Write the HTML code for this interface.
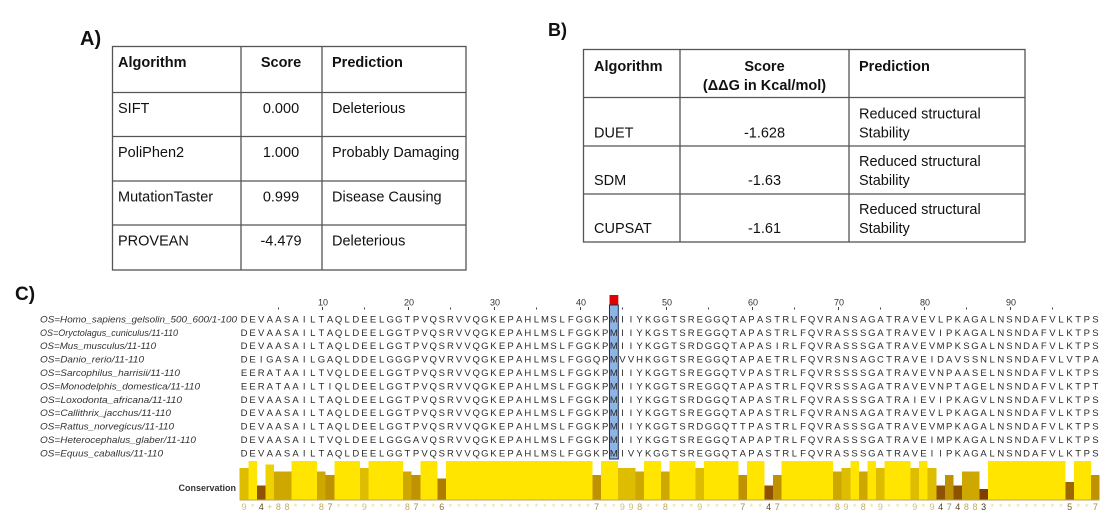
<!DOCTYPE html>
<html><head><meta charset="utf-8"><style>
body{margin:0;background:#fff}
svg{display:block}
.c9{fill:#D2BE6E}.c8{fill:#C4AA55}.c7{fill:#A08A50}.c6{fill:#8C7040}.c5{fill:#7C6038}.c4{fill:#5E4220}.c3{fill:#4A2E14}.cp{fill:#D8C878}
</style></head><body>
<svg width="1118" height="531" viewBox="0 0 1118 531" xmlns="http://www.w3.org/2000/svg" font-family="'Liberation Sans', Arial, sans-serif">
<rect width="1118" height="531" fill="#fff"/>

<!-- Panel labels -->
<text x="80" y="45" font-size="20" font-weight="bold" fill="#111">A)</text>
<text x="548" y="36" font-size="18" font-weight="bold" fill="#111">B)</text>
<text x="15" y="300" font-size="19" font-weight="bold" fill="#111">C)</text>

<!-- Table A -->
<g stroke="#555" stroke-width="1.3" fill="none">
<rect x="112.5" y="46.5" width="353.5" height="223.5"/>
<line x1="112.5" y1="92.5" x2="466" y2="92.5"/>
<line x1="112.5" y1="136.5" x2="466" y2="136.5"/>
<line x1="112.5" y1="181" x2="466" y2="181"/>
<line x1="112.5" y1="225" x2="466" y2="225"/>
<line x1="241" y1="46.5" x2="241" y2="270"/>
<line x1="322" y1="46.5" x2="322" y2="270"/>
</g>
<g font-size="14.5" fill="#111">
<text x="118" y="67" font-weight="bold">Algorithm</text>
<text x="281" y="67" text-anchor="middle" font-weight="bold">Score</text>
<text x="332" y="67" font-weight="bold">Prediction</text>
<text x="118" y="113">SIFT</text>
<text x="281" y="113" text-anchor="middle">0.000</text>
<text x="332" y="113">Deleterious</text>
<text x="118" y="157">PoliPhen2</text>
<text x="281" y="157" text-anchor="middle">1.000</text>
<text x="332" y="157">Probably Damaging</text>
<text x="118" y="201.5">MutationTaster</text>
<text x="281" y="201.5" text-anchor="middle">0.999</text>
<text x="332" y="201.5">Disease Causing</text>
<text x="118" y="245.5">PROVEAN</text>
<text x="281" y="245.5" text-anchor="middle">-4.479</text>
<text x="332" y="245.5">Deleterious</text>
</g>

<!-- Table B -->
<g stroke="#555" stroke-width="1.3" fill="none">
<rect x="583.5" y="49.5" width="441.5" height="192.5"/>
<line x1="583.5" y1="97.5" x2="1025" y2="97.5"/>
<line x1="583.5" y1="146" x2="1025" y2="146"/>
<line x1="583.5" y1="194" x2="1025" y2="194"/>
<line x1="680" y1="49.5" x2="680" y2="242"/>
<line x1="849" y1="49.5" x2="849" y2="242"/>
</g>
<g font-size="14.5" fill="#111">
<text x="594" y="71" font-weight="bold">Algorithm</text>
<text x="764.5" y="71" text-anchor="middle" font-weight="bold">Score</text>
<text x="764.5" y="90.2" text-anchor="middle" font-weight="bold">(ΔΔG in Kcal/mol)</text>
<text x="859" y="71" font-weight="bold">Prediction</text>
<text x="859" y="118.5">Reduced structural</text>
<text x="859" y="137.5">Stability</text>
<text x="594" y="137.5">DUET</text>
<text x="764.5" y="137.5" text-anchor="middle">-1.628</text>
<text x="859" y="166.2">Reduced structural</text>
<text x="859" y="185.2">Stability</text>
<text x="594" y="185.2">SDM</text>
<text x="764.5" y="185.2" text-anchor="middle">-1.63</text>
<text x="859" y="214.2">Reduced structural</text>
<text x="859" y="232.9">Stability</text>
<text x="594" y="232.9">CUPSAT</text>
<text x="764.5" y="232.9" text-anchor="middle">-1.61</text>
</g>

<!-- Ruler -->
<g font-size="9" fill="#333" text-anchor="middle">
<text x="323" y="305.7">10</text>
<text x="409" y="305.7">20</text>
<text x="495" y="305.7">30</text>
<text x="581" y="305.7">40</text>
<text x="667" y="305.7">50</text>
<text x="753" y="305.7">60</text>
<text x="839" y="305.7">70</text>
<text x="925" y="305.7">80</text>
<text x="1011" y="305.7">90</text>
</g>
<g fill="#444">
<rect x="278" y="307.5" width="1" height="2"/>
<rect x="322" y="307" width="1" height="3"/>
<rect x="364" y="307.5" width="1" height="2"/>
<rect x="408" y="307" width="1" height="3"/>
<rect x="450" y="307.5" width="1" height="2"/>
<rect x="494" y="307" width="1" height="3"/>
<rect x="536" y="307.5" width="1" height="2"/>
<rect x="580" y="307" width="1" height="3"/>
<rect x="622" y="307.5" width="1" height="2"/>
<rect x="666" y="307" width="1" height="3"/>
<rect x="708" y="307.5" width="1" height="2"/>
<rect x="752" y="307" width="1" height="3"/>
<rect x="794" y="307.5" width="1" height="2"/>
<rect x="838" y="307" width="1" height="3"/>
<rect x="880" y="307.5" width="1" height="2"/>
<rect x="924" y="307" width="1" height="3"/>
<rect x="966" y="307.5" width="1" height="2"/>
<rect x="1010" y="307" width="1" height="3"/>
<rect x="1052" y="307.5" width="1" height="2"/>
</g>

<!-- Selected column -->
<rect x="609.5" y="295" width="8.8" height="10" fill="#E00000"/>
<rect x="609.5" y="305" width="8.8" height="154" fill="#8EB4E3" stroke="#1b2f5a" stroke-width="1"/>

<!-- Names -->
<g font-size="9.5" font-style="italic" fill="#333">
<text x="40" y="322.4" textLength="197" lengthAdjust="spacingAndGlyphs">OS=Homo_sapiens_gelsolin_500_600/1-100</text>
<text x="40" y="335.8" textLength="138" lengthAdjust="spacingAndGlyphs">OS=Oryctolagus_cuniculus/11-110</text>
<text x="40" y="349.2" textLength="116" lengthAdjust="spacingAndGlyphs">OS=Mus_musculus/11-110</text>
<text x="40" y="362.6" textLength="104" lengthAdjust="spacingAndGlyphs">OS=Danio_rerio/11-110</text>
<text x="40" y="376" textLength="140" lengthAdjust="spacingAndGlyphs">OS=Sarcophilus_harrisii/11-110</text>
<text x="40" y="389.4" textLength="160" lengthAdjust="spacingAndGlyphs">OS=Monodelphis_domestica/11-110</text>
<text x="40" y="402.8" textLength="142" lengthAdjust="spacingAndGlyphs">OS=Loxodonta_africana/11-110</text>
<text x="40" y="416.2" textLength="131" lengthAdjust="spacingAndGlyphs">OS=Callithrix_jacchus/11-110</text>
<text x="40" y="429.6" textLength="134" lengthAdjust="spacingAndGlyphs">OS=Rattus_norvegicus/11-110</text>
<text x="40" y="443" textLength="156" lengthAdjust="spacingAndGlyphs">OS=Heterocephalus_glaber/11-110</text>
<text x="40" y="456.4" textLength="123" lengthAdjust="spacingAndGlyphs">OS=Equus_caballus/11-110</text>
</g>

<!-- Sequences -->
<g font-size="9.5" fill="#2b2b2b" text-anchor="middle">
<text y="322.4" x="244 252.6 261.2 269.8 278.4 287 295.6 304.2 312.8 321.4 330 338.6 347.2 355.8 364.4 373 381.6 390.2 398.8 407.4 416 424.6 433.2 441.8 450.4 459 467.6 476.2 484.8 493.4 502 510.6 519.2 527.8 536.4 545 553.6 562.2 570.8 579.4 588 596.6 605.2 613.8 622.4 631 639.6 648.2 656.8 665.4 674 682.6 691.2 699.8 708.4 717 725.6 734.2 742.8 751.4 760 768.6 777.2 785.8 794.4 803 811.6 820.2 828.8 837.4 846 854.6 863.2 871.8 880.4 889 897.6 906.2 914.8 923.4 932 940.6 949.2 957.8 966.4 975 983.6 992.2 1000.8 1009.4 1018 1026.6 1035.2 1043.8 1052.4 1061 1069.6 1078.2 1086.8 1095.4">DEVAASAILTAQLDEELGGTPVQSRVVQGKEPAHLMSLFGGKPMIIYKGGTSREGGQTAPASTRLFQVRANSAGATRAVEVLPKAGALNSNDAFVLKTPS</text>
<text y="335.8" x="244 252.6 261.2 269.8 278.4 287 295.6 304.2 312.8 321.4 330 338.6 347.2 355.8 364.4 373 381.6 390.2 398.8 407.4 416 424.6 433.2 441.8 450.4 459 467.6 476.2 484.8 493.4 502 510.6 519.2 527.8 536.4 545 553.6 562.2 570.8 579.4 588 596.6 605.2 613.8 622.4 631 639.6 648.2 656.8 665.4 674 682.6 691.2 699.8 708.4 717 725.6 734.2 742.8 751.4 760 768.6 777.2 785.8 794.4 803 811.6 820.2 828.8 837.4 846 854.6 863.2 871.8 880.4 889 897.6 906.2 914.8 923.4 932 940.6 949.2 957.8 966.4 975 983.6 992.2 1000.8 1009.4 1018 1026.6 1035.2 1043.8 1052.4 1061 1069.6 1078.2 1086.8 1095.4">DEVAASAILTAQLDEELGGTPVQSRVVQGKEPAHLMSLFGGKPMIIYKGSTSREGGQTAPASTRLFQVRASSSGATRAVEVIPKAGALNSNDAFVLKTPS</text>
<text y="349.2" x="244 252.6 261.2 269.8 278.4 287 295.6 304.2 312.8 321.4 330 338.6 347.2 355.8 364.4 373 381.6 390.2 398.8 407.4 416 424.6 433.2 441.8 450.4 459 467.6 476.2 484.8 493.4 502 510.6 519.2 527.8 536.4 545 553.6 562.2 570.8 579.4 588 596.6 605.2 613.8 622.4 631 639.6 648.2 656.8 665.4 674 682.6 691.2 699.8 708.4 717 725.6 734.2 742.8 751.4 760 768.6 777.2 785.8 794.4 803 811.6 820.2 828.8 837.4 846 854.6 863.2 871.8 880.4 889 897.6 906.2 914.8 923.4 932 940.6 949.2 957.8 966.4 975 983.6 992.2 1000.8 1009.4 1018 1026.6 1035.2 1043.8 1052.4 1061 1069.6 1078.2 1086.8 1095.4">DEVAASAILTAQLDEELGGTPVQSRVVQGKEPAHLMSLFGGKPMIIYKGGTSRDGGQTAPASIRLFQVRASSSGATRAVEVMPKSGALNSNDAFVLKTPS</text>
<text y="362.6" x="244 252.6 261.2 269.8 278.4 287 295.6 304.2 312.8 321.4 330 338.6 347.2 355.8 364.4 373 381.6 390.2 398.8 407.4 416 424.6 433.2 441.8 450.4 459 467.6 476.2 484.8 493.4 502 510.6 519.2 527.8 536.4 545 553.6 562.2 570.8 579.4 588 596.6 605.2 613.8 622.4 631 639.6 648.2 656.8 665.4 674 682.6 691.2 699.8 708.4 717 725.6 734.2 742.8 751.4 760 768.6 777.2 785.8 794.4 803 811.6 820.2 828.8 837.4 846 854.6 863.2 871.8 880.4 889 897.6 906.2 914.8 923.4 932 940.6 949.2 957.8 966.4 975 983.6 992.2 1000.8 1009.4 1018 1026.6 1035.2 1043.8 1052.4 1061 1069.6 1078.2 1086.8 1095.4">DEIGASAILGAQLDDELGGGPVQVRVVQGKEPAHLMSLFGGQPMVVHKGGTSREGGQTAPAETRLFQVRSNSAGCTRAVEIDAVSSNLNSNDAFVLVTPA</text>
<text y="376" x="244 252.6 261.2 269.8 278.4 287 295.6 304.2 312.8 321.4 330 338.6 347.2 355.8 364.4 373 381.6 390.2 398.8 407.4 416 424.6 433.2 441.8 450.4 459 467.6 476.2 484.8 493.4 502 510.6 519.2 527.8 536.4 545 553.6 562.2 570.8 579.4 588 596.6 605.2 613.8 622.4 631 639.6 648.2 656.8 665.4 674 682.6 691.2 699.8 708.4 717 725.6 734.2 742.8 751.4 760 768.6 777.2 785.8 794.4 803 811.6 820.2 828.8 837.4 846 854.6 863.2 871.8 880.4 889 897.6 906.2 914.8 923.4 932 940.6 949.2 957.8 966.4 975 983.6 992.2 1000.8 1009.4 1018 1026.6 1035.2 1043.8 1052.4 1061 1069.6 1078.2 1086.8 1095.4">EERATAAILTVQLDEELGGTPVQSRVVQGKEPAHLMSLFGGKPMIIYKGGTSREGGQTVPASTRLFQVRSSSSGATRAVEVNPAASELNSNDAFVLKTPS</text>
<text y="389.4" x="244 252.6 261.2 269.8 278.4 287 295.6 304.2 312.8 321.4 330 338.6 347.2 355.8 364.4 373 381.6 390.2 398.8 407.4 416 424.6 433.2 441.8 450.4 459 467.6 476.2 484.8 493.4 502 510.6 519.2 527.8 536.4 545 553.6 562.2 570.8 579.4 588 596.6 605.2 613.8 622.4 631 639.6 648.2 656.8 665.4 674 682.6 691.2 699.8 708.4 717 725.6 734.2 742.8 751.4 760 768.6 777.2 785.8 794.4 803 811.6 820.2 828.8 837.4 846 854.6 863.2 871.8 880.4 889 897.6 906.2 914.8 923.4 932 940.6 949.2 957.8 966.4 975 983.6 992.2 1000.8 1009.4 1018 1026.6 1035.2 1043.8 1052.4 1061 1069.6 1078.2 1086.8 1095.4">EERATAAILTIQLDEELGGTPVQSRVVQGKEPAHLMSLFGGKPMIIYKGGTSREGGQTAPASTRLFQVRSSSAGATRAVEVNPTAGELNSNDAFVLKTPT</text>
<text y="402.8" x="244 252.6 261.2 269.8 278.4 287 295.6 304.2 312.8 321.4 330 338.6 347.2 355.8 364.4 373 381.6 390.2 398.8 407.4 416 424.6 433.2 441.8 450.4 459 467.6 476.2 484.8 493.4 502 510.6 519.2 527.8 536.4 545 553.6 562.2 570.8 579.4 588 596.6 605.2 613.8 622.4 631 639.6 648.2 656.8 665.4 674 682.6 691.2 699.8 708.4 717 725.6 734.2 742.8 751.4 760 768.6 777.2 785.8 794.4 803 811.6 820.2 828.8 837.4 846 854.6 863.2 871.8 880.4 889 897.6 906.2 914.8 923.4 932 940.6 949.2 957.8 966.4 975 983.6 992.2 1000.8 1009.4 1018 1026.6 1035.2 1043.8 1052.4 1061 1069.6 1078.2 1086.8 1095.4">DEVAASAILTAQLDEELGGTPVQSRVVQGKEPAHLMSLFGGKPMIIYKGGTSRDGGQTAPASTRLFQVRASSSGATRAIEVIPKAGVLNSNDAFVLKTPS</text>
<text y="416.2" x="244 252.6 261.2 269.8 278.4 287 295.6 304.2 312.8 321.4 330 338.6 347.2 355.8 364.4 373 381.6 390.2 398.8 407.4 416 424.6 433.2 441.8 450.4 459 467.6 476.2 484.8 493.4 502 510.6 519.2 527.8 536.4 545 553.6 562.2 570.8 579.4 588 596.6 605.2 613.8 622.4 631 639.6 648.2 656.8 665.4 674 682.6 691.2 699.8 708.4 717 725.6 734.2 742.8 751.4 760 768.6 777.2 785.8 794.4 803 811.6 820.2 828.8 837.4 846 854.6 863.2 871.8 880.4 889 897.6 906.2 914.8 923.4 932 940.6 949.2 957.8 966.4 975 983.6 992.2 1000.8 1009.4 1018 1026.6 1035.2 1043.8 1052.4 1061 1069.6 1078.2 1086.8 1095.4">DEVAASAILTAQLDEELGGTPVQSRVVQGKEPAHLMSLFGGKPMIIYKGGTSREGGQTAPASTRLFQVRANSAGATRAVEVLPKAGALNSNDAFVLKTPS</text>
<text y="429.6" x="244 252.6 261.2 269.8 278.4 287 295.6 304.2 312.8 321.4 330 338.6 347.2 355.8 364.4 373 381.6 390.2 398.8 407.4 416 424.6 433.2 441.8 450.4 459 467.6 476.2 484.8 493.4 502 510.6 519.2 527.8 536.4 545 553.6 562.2 570.8 579.4 588 596.6 605.2 613.8 622.4 631 639.6 648.2 656.8 665.4 674 682.6 691.2 699.8 708.4 717 725.6 734.2 742.8 751.4 760 768.6 777.2 785.8 794.4 803 811.6 820.2 828.8 837.4 846 854.6 863.2 871.8 880.4 889 897.6 906.2 914.8 923.4 932 940.6 949.2 957.8 966.4 975 983.6 992.2 1000.8 1009.4 1018 1026.6 1035.2 1043.8 1052.4 1061 1069.6 1078.2 1086.8 1095.4">DEVAASAILTAQLDEELGGTPVQSRVVQGKEPAHLMSLFGGKPMIIYKGGTSRDGGQTTPASTRLFQVRASSSGATRAVEVMPKAGALNSNDAFVLKTPS</text>
<text y="443" x="244 252.6 261.2 269.8 278.4 287 295.6 304.2 312.8 321.4 330 338.6 347.2 355.8 364.4 373 381.6 390.2 398.8 407.4 416 424.6 433.2 441.8 450.4 459 467.6 476.2 484.8 493.4 502 510.6 519.2 527.8 536.4 545 553.6 562.2 570.8 579.4 588 596.6 605.2 613.8 622.4 631 639.6 648.2 656.8 665.4 674 682.6 691.2 699.8 708.4 717 725.6 734.2 742.8 751.4 760 768.6 777.2 785.8 794.4 803 811.6 820.2 828.8 837.4 846 854.6 863.2 871.8 880.4 889 897.6 906.2 914.8 923.4 932 940.6 949.2 957.8 966.4 975 983.6 992.2 1000.8 1009.4 1018 1026.6 1035.2 1043.8 1052.4 1061 1069.6 1078.2 1086.8 1095.4">DEVAASAILTVQLDEELGGGAVQSRVVQGKEPAHLMSLFGGKPMIIYKGGTSREGGQTAPAPTRLFQVRASSSGATRAVEIMPKAGALNSNDAFVLKTPS</text>
<text y="456.4" x="244 252.6 261.2 269.8 278.4 287 295.6 304.2 312.8 321.4 330 338.6 347.2 355.8 364.4 373 381.6 390.2 398.8 407.4 416 424.6 433.2 441.8 450.4 459 467.6 476.2 484.8 493.4 502 510.6 519.2 527.8 536.4 545 553.6 562.2 570.8 579.4 588 596.6 605.2 613.8 622.4 631 639.6 648.2 656.8 665.4 674 682.6 691.2 699.8 708.4 717 725.6 734.2 742.8 751.4 760 768.6 777.2 785.8 794.4 803 811.6 820.2 828.8 837.4 846 854.6 863.2 871.8 880.4 889 897.6 906.2 914.8 923.4 932 940.6 949.2 957.8 966.4 975 983.6 992.2 1000.8 1009.4 1018 1026.6 1035.2 1043.8 1052.4 1061 1069.6 1078.2 1086.8 1095.4">DEVAASAILTAQLDEELGGTPVQSRVVQGKEPAHLMSLFGGKPMIVYKGGTSREGGQTAPASTRLFQVRASSSGATRAVEIIPKAGALNSNDAFVLKTPS</text>
</g>

<!-- Conservation label -->
<text x="236" y="491" font-size="9" font-weight="bold" fill="#333" text-anchor="end">Conservation</text>

<!-- Conservation bars -->
<g shape-rendering="crispEdges">
<rect x="239.7" y="468" width="8.6" height="31.5" fill="#DEBC00"/>
<rect x="248.3" y="461" width="8.6" height="38.5" fill="#FFE500"/>
<rect x="256.9" y="485.5" width="8.6" height="14" fill="#8D5300"/>
<rect x="265.5" y="464.5" width="8.6" height="35" fill="#EFD100"/>
<rect x="274.1" y="471.5" width="17.2" height="28" fill="#CEA700"/>
<rect x="291.3" y="461" width="25.8" height="38.5" fill="#FFE500"/>
<rect x="317.1" y="471.5" width="8.6" height="28" fill="#CEA700"/>
<rect x="325.7" y="475" width="8.6" height="24.5" fill="#BE9200"/>
<rect x="334.3" y="461" width="25.8" height="38.5" fill="#FFE500"/>
<rect x="360.1" y="468" width="8.6" height="31.5" fill="#DEBC00"/>
<rect x="368.7" y="461" width="34.4" height="38.5" fill="#FFE500"/>
<rect x="403.1" y="471.5" width="8.6" height="28" fill="#CEA700"/>
<rect x="411.7" y="475" width="8.6" height="24.5" fill="#BE9200"/>
<rect x="420.3" y="461" width="17.2" height="38.5" fill="#FFE500"/>
<rect x="437.5" y="478.5" width="8.6" height="21" fill="#AE7D00"/>
<rect x="446.1" y="461" width="146.2" height="38.5" fill="#FFE500"/>
<rect x="592.3" y="475" width="8.6" height="24.5" fill="#BE9200"/>
<rect x="600.9" y="461" width="17.2" height="38.5" fill="#FFE500"/>
<rect x="618.1" y="468" width="17.2" height="31.5" fill="#DEBC00"/>
<rect x="635.3" y="471.5" width="8.6" height="28" fill="#CEA700"/>
<rect x="643.9" y="461" width="17.2" height="38.5" fill="#FFE500"/>
<rect x="661.1" y="471.5" width="8.6" height="28" fill="#CEA700"/>
<rect x="669.7" y="461" width="25.8" height="38.5" fill="#FFE500"/>
<rect x="695.5" y="468" width="8.6" height="31.5" fill="#DEBC00"/>
<rect x="704.1" y="461" width="34.4" height="38.5" fill="#FFE500"/>
<rect x="738.5" y="475" width="8.6" height="24.5" fill="#BE9200"/>
<rect x="747.1" y="461" width="17.2" height="38.5" fill="#FFE500"/>
<rect x="764.3" y="485.5" width="8.6" height="14" fill="#8D5300"/>
<rect x="772.9" y="475" width="8.6" height="24.5" fill="#BE9200"/>
<rect x="781.5" y="461" width="51.6" height="38.5" fill="#FFE500"/>
<rect x="833.1" y="471.5" width="8.6" height="28" fill="#CEA700"/>
<rect x="841.7" y="468" width="8.6" height="31.5" fill="#DEBC00"/>
<rect x="850.3" y="461" width="8.6" height="38.5" fill="#FFE500"/>
<rect x="858.9" y="471.5" width="8.6" height="28" fill="#CEA700"/>
<rect x="867.5" y="461" width="8.6" height="38.5" fill="#FFE500"/>
<rect x="876.1" y="468" width="8.6" height="31.5" fill="#DEBC00"/>
<rect x="884.7" y="461" width="25.8" height="38.5" fill="#FFE500"/>
<rect x="910.5" y="468" width="8.6" height="31.5" fill="#DEBC00"/>
<rect x="919.1" y="461" width="8.6" height="38.5" fill="#FFE500"/>
<rect x="927.7" y="468" width="8.6" height="31.5" fill="#DEBC00"/>
<rect x="936.3" y="485.5" width="8.6" height="14" fill="#8D5300"/>
<rect x="944.9" y="475" width="8.6" height="24.5" fill="#BE9200"/>
<rect x="953.5" y="485.5" width="8.6" height="14" fill="#8D5300"/>
<rect x="962.1" y="471.5" width="17.2" height="28" fill="#CEA700"/>
<rect x="979.3" y="489" width="8.6" height="10.5" fill="#7D3E00"/>
<rect x="987.9" y="461" width="77.4" height="38.5" fill="#FFE500"/>
<rect x="1065.3" y="482" width="8.6" height="17.5" fill="#9E6800"/>
<rect x="1073.9" y="461" width="17.2" height="38.5" fill="#FFE500"/>
<rect x="1091.1" y="475" width="8.6" height="24.5" fill="#BE9200"/>
<rect x="239.7" y="499.5" width="860" height="1" fill="#B4A468"/>
</g>

<!-- Conservation characters -->
<text y="510" font-size="9" fill="#EADB8A" text-anchor="middle" x="244 252.6 261.2 269.8 278.4 287 295.6 304.2 312.8 321.4 330 338.6 347.2 355.8 364.4 373 381.6 390.2 398.8 407.4 416 424.6 433.2 441.8 450.4 459 467.6 476.2 484.8 493.4 502 510.6 519.2 527.8 536.4 545 553.6 562.2 570.8 579.4 588 596.6 605.2 613.8 622.4 631 639.6 648.2 656.8 665.4 674 682.6 691.2 699.8 708.4 717 725.6 734.2 742.8 751.4 760 768.6 777.2 785.8 794.4 803 811.6 820.2 828.8 837.4 846 854.6 863.2 871.8 880.4 889 897.6 906.2 914.8 923.4 932 940.6 949.2 957.8 966.4 975 983.6 992.2 1000.8 1009.4 1018 1026.6 1035.2 1043.8 1052.4 1061 1069.6 1078.2 1086.8 1095.4"><tspan class="c9">9</tspan>*<tspan class="c4">4</tspan><tspan class="cp">+</tspan><tspan class="c8">88</tspan>***<tspan class="c8">8</tspan><tspan class="c7">7</tspan>***<tspan class="c9">9</tspan>****<tspan class="c8">8</tspan><tspan class="c7">7</tspan>**<tspan class="c6">6</tspan>*****************<tspan class="c7">7</tspan>**<tspan class="c9">99</tspan><tspan class="c8">8</tspan>**<tspan class="c8">8</tspan>***<tspan class="c9">9</tspan>****<tspan class="c7">7</tspan>**<tspan class="c4">4</tspan><tspan class="c7">7</tspan>******<tspan class="c8">8</tspan><tspan class="c9">9</tspan>*<tspan class="c8">8</tspan>*<tspan class="c9">9</tspan>***<tspan class="c9">9</tspan>*<tspan class="c9">9</tspan><tspan class="c4">4</tspan><tspan class="c7">7</tspan><tspan class="c4">4</tspan><tspan class="c8">88</tspan><tspan class="c3">3</tspan>*********<tspan class="c5">5</tspan>**<tspan class="c7">7</tspan></text>
</svg>
</body></html>
